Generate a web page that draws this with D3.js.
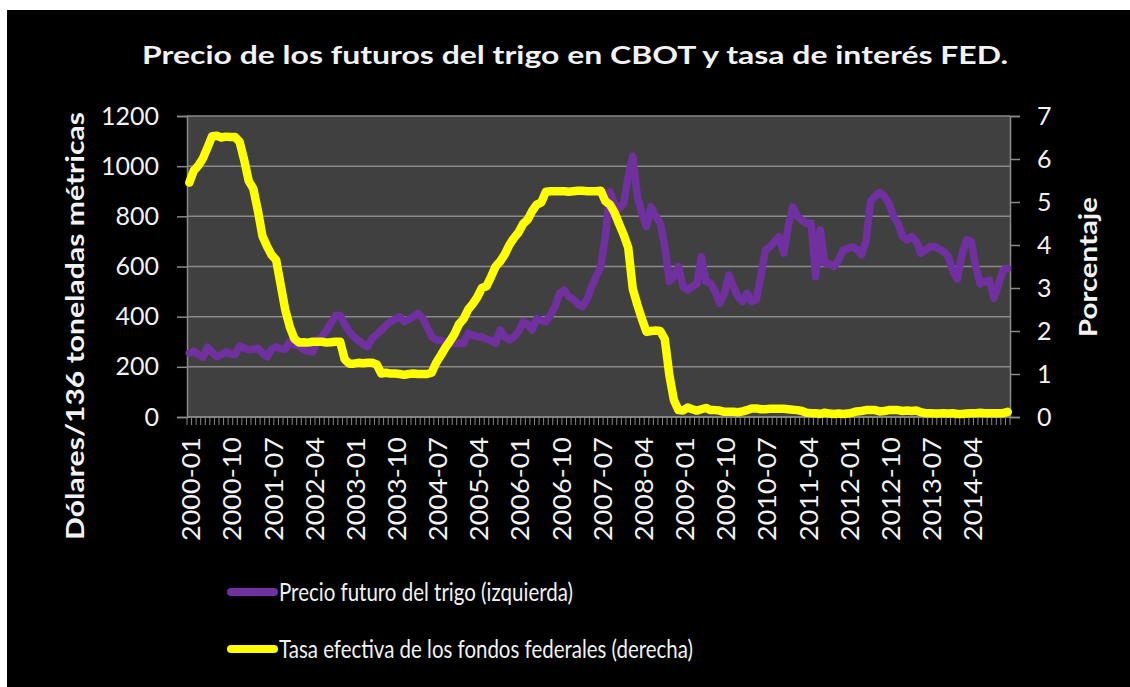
<!DOCTYPE html>
<html><head><meta charset="utf-8">
<script src="https://cdn.jsdelivr.net/npm/d3@7"></script>
<style>body{margin:0;background:#fff;} text{font-family:Lato, "Open Sans", sans-serif;}</style>
</head><body>
<svg id="c" width="1130" height="687"></svg>
<script>
// ---- data ----
const categories = d3.timeMonths(new Date(2000,0,1), new Date(2015,0,1)).map(d3.timeFormat("%Y-%m"));
const wheat = [
 254,262,248,238,278,258,240,248,260,250,248,283,
 275,268,270,274,255,240,270,280,272,270,300,287,
 285,268,262,260,305,320,345,375,405,405,370,340,
 320,305,290,280,314,330,347,365,380,390,400,380,
 390,400,413,395,360,320,307,305,300,296,294,294,
 294,334,325,320,318,310,305,294,347,320,307,320,
 340,380,370,347,393,385,380,407,440,493,506,480,
 470,450,440,470,520,560,600,720,898,850,830,852,
 960,1040,880,810,760,838,800,772,680,540,560,600,
 520,506,520,530,639,540,533,500,453,490,566,520,
 480,460,493,460,467,560,665,679,700,719,653,760,
 838,800,785,772,772,560,746,613,610,600,625,666,
 670,679,668,646,700,860,880,895,880,852,800,772,
 720,706,719,700,653,665,679,679,670,660,639,580,
 550,650,706,700,600,530,540,545,473,530,586,593
];
const fedRate = [
 5.45,5.73,5.85,6.02,6.27,6.53,6.54,6.50,6.52,6.51,6.51,6.40,
 5.98,5.49,5.31,4.80,4.21,3.97,3.77,3.65,3.07,2.49,2.09,1.82,
 1.73,1.74,1.73,1.75,1.75,1.75,1.73,1.74,1.75,1.75,1.34,1.24,
 1.24,1.26,1.25,1.26,1.26,1.22,1.01,1.03,1.01,1.01,1.00,0.98,
 1.00,1.01,1.00,1.00,1.00,1.03,1.26,1.43,1.61,1.76,1.93,2.16,
 2.28,2.50,2.63,2.79,3.00,3.04,3.26,3.50,3.62,3.78,4.00,4.16,
 4.29,4.49,4.59,4.79,4.94,4.99,5.24,5.25,5.25,5.25,5.25,5.24,
 5.25,5.26,5.26,5.25,5.25,5.25,5.26,5.02,4.94,4.76,4.49,4.24,
 3.94,2.98,2.61,2.28,1.98,2.00,2.01,2.00,1.81,0.97,0.39,0.16,
 0.15,0.22,0.18,0.15,0.18,0.21,0.16,0.16,0.15,0.12,0.12,0.12,
 0.11,0.13,0.16,0.20,0.20,0.18,0.18,0.19,0.19,0.19,0.19,0.18,
 0.17,0.16,0.14,0.10,0.09,0.09,0.07,0.10,0.08,0.07,0.08,0.07,
 0.08,0.10,0.13,0.14,0.16,0.16,0.16,0.13,0.14,0.16,0.16,0.16,
 0.14,0.15,0.14,0.15,0.11,0.09,0.09,0.08,0.08,0.09,0.08,0.09,
 0.07,0.07,0.08,0.09,0.09,0.10,0.09,0.09,0.09,0.09,0.09,0.12
];
const leftTicks = [0,200,400,600,800,1000,1200];
const rightTicks = [0,1,2,3,4,5,6,7];
const xLabelEvery = 9;
const title = "Precio de los futuros del trigo en CBOT y tasa de interés FED.";
const leftTitle = "Dólares/136 toneladas métricas";
const rightTitle = "Porcentaje";
const seriesNames = ["Precio futuro del trigo (izquierda)", "Tasa efectiva de los fondos federales  (derecha)"];
const seriesColors = ["#7030A0", "#FFFF00"];

// ---- layout ----
const svg = d3.select("#c");
const plot = {left:187, right:1010, top:116, bottom:417};
svg.append("rect").attr("x",7).attr("y",10).attr("width",1123).attr("height",677).attr("fill","#000");

const x = d3.scaleBand().domain(categories).range([plot.left, plot.right]).padding(0);
const yL = d3.scaleLinear().domain([0,1200]).range([plot.bottom, plot.top]);
const yR = d3.scaleLinear().domain([0,7]).range([plot.bottom, plot.top]);
const gridCol = "#8a8a8a";

svg.append("rect").attr("x",plot.left).attr("y",plot.top).attr("width",plot.right-plot.left).attr("height",plot.bottom-plot.top).attr("fill","#404040");

// grid
svg.append("g").selectAll("line").data(leftTicks).join("line")
  .attr("x1",plot.left).attr("x2",plot.right).attr("y1",d=>yL(d)).attr("y2",d=>yL(d))
  .attr("stroke",gridCol).attr("stroke-width",1.5);

// left axis
const gL = svg.append("g").attr("transform",`translate(${plot.left},0)`)
  .call(d3.axisLeft(yL).tickValues(leftTicks).tickFormat(d3.format("d")).tickSize(10).tickPadding(18));
gL.select(".domain").attr("stroke",gridCol).attr("stroke-width",1.5);
gL.selectAll(".tick line").attr("stroke",gridCol).attr("stroke-width",1.5);
gL.selectAll(".tick text").attr("fill","#f2f2f2").style("font-size","25px").style("font-family","Lato");

// right axis
const gR = svg.append("g").attr("transform",`translate(${plot.right},0)`)
  .call(d3.axisRight(yR).tickValues(rightTicks).tickFormat(d3.format("d")).tickSize(10).tickPadding(17));
gR.select(".domain").attr("stroke",gridCol).attr("stroke-width",1.5);
gR.selectAll(".tick line").attr("stroke",gridCol).attr("stroke-width",1.5);
gR.selectAll(".tick text").attr("fill","#f2f2f2").style("font-size","25px").style("font-family","Lato");

// bottom axis: category boundary ticks
const bounds = categories.map(c=>x(c)).concat([x(categories[categories.length-1])+x.bandwidth()]);
svg.append("g").selectAll("line").data(bounds).join("line")
  .attr("x1",d=>d).attr("x2",d=>d).attr("y1",plot.bottom).attr("y2",plot.bottom+8)
  .attr("stroke",gridCol).attr("stroke-width",1);
svg.append("line").attr("x1",plot.left).attr("x2",plot.right).attr("y1",plot.bottom).attr("y2",plot.bottom)
  .attr("stroke",gridCol).attr("stroke-width",1.5);
svg.append("g").selectAll("text").data(categories.filter((c,i)=>i%xLabelEvery===0)).join("text")
  .attr("transform",d=>`translate(${x(d)+x.bandwidth()/2+2},${plot.bottom+20}) rotate(-90)`)
  .attr("text-anchor","end").attr("dy","0.36em")
  .attr("fill","#f2f2f2").style("font-size","25px")
  .attr("textLength",104).attr("lengthAdjust","spacingAndGlyphs")
  .text(d=>d);

// lines
const lineL = d3.line().x((d,i)=>x(categories[i])+x.bandwidth()/2).y(d=>yL(d)).curve(d3.curveLinear);
const lineR = d3.line().x((d,i)=>x(categories[i])+x.bandwidth()/2).y(d=>yR(d)).curve(d3.curveLinear);
svg.append("path").datum(wheat).attr("d",lineL).attr("fill","none")
  .attr("stroke",seriesColors[0]).attr("stroke-width",7.5).attr("stroke-linejoin","round").attr("stroke-linecap","round");
svg.append("path").datum(fedRate).attr("d",lineR).attr("fill","none")
  .attr("stroke",seriesColors[1]).attr("stroke-width",8.5).attr("stroke-linejoin","round").attr("stroke-linecap","round");

// titles
svg.append("text").attr("x",575).attr("y",64).attr("text-anchor","middle")
  .attr("fill","#f2f2f2").style("font-size","25px").style("font-weight","bold")
  .attr("textLength",866).attr("lengthAdjust","spacingAndGlyphs").text(title);
svg.append("text").attr("transform","translate(84,326) rotate(-90)").attr("text-anchor","middle")
  .attr("fill","#f2f2f2").style("font-size","25px").style("font-weight","bold")
  .attr("textLength",428).attr("lengthAdjust","spacingAndGlyphs").text(leftTitle);
svg.append("text").attr("transform","translate(1097,267) rotate(-90)").attr("text-anchor","middle")
  .attr("fill","#f2f2f2").style("font-size","25px").style("font-weight","bold")
  .attr("textLength",140).attr("lengthAdjust","spacingAndGlyphs").text(rightTitle);

// legend
const legY = [592, 649];
const legW = [294, 414];
const leg = svg.append("g").selectAll("g").data(seriesNames).join("g")
  .attr("transform",(d,i)=>`translate(0,${legY[i]})`);
leg.append("line").attr("x1",231).attr("x2",274).attr("y1",0).attr("y2",0)
  .attr("stroke",(d,i)=>seriesColors[i]).attr("stroke-width",8).attr("stroke-linecap","round");
leg.append("text").attr("x",279).attr("y",0).attr("dy","0.35em")
  .attr("fill","#f2f2f2").style("font-size","25px")
  .attr("textLength",(d,i)=>legW[i]).attr("lengthAdjust","spacingAndGlyphs").text(d=>d);
</script>
</body></html>
